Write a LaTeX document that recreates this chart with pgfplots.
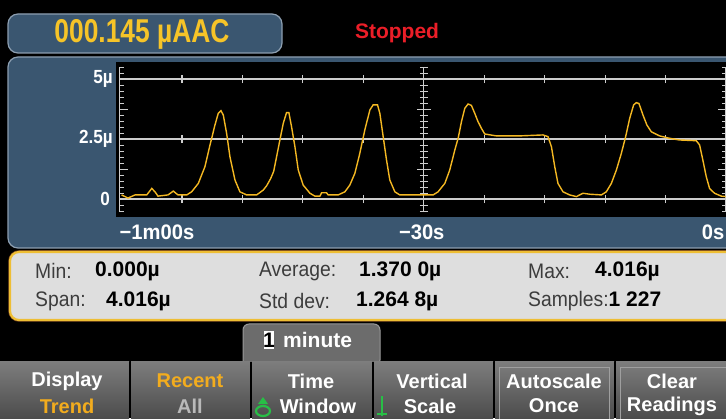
\documentclass[border=0pt]{standalone}
\usepackage{pgfplots}
\pgfplotsset{compat=1.18}
\usepackage{fontspec}
\setmainfont{Liberation Sans}
\newfontfamily\ui{Liberation Sans}
\newfontfamily\uin[FakeStretch=0.92]{Liberation Sans}
\newfontfamily\uic[FakeStretch=0.9]{Liberation Sans}
\newfontfamily\uir[FakeStretch=0.8]{Liberation Sans}
\newfontfamily\uiw[FakeStretch=0.96]{Liberation Sans}
\usetikzlibrary{shadings}
\newcommand\fs[1]{\fontsize{#1}{#1}\selectfont}
\definecolor{panel}{RGB}{58,86,112}
\definecolor{panelb}{RGB}{140,158,176}
\definecolor{readyel}{RGB}{246,196,40}
\definecolor{stopred}{RGB}{235,30,40}
\definecolor{gridc}{RGB}{205,205,205}
\definecolor{trace}{RGB}{244,184,34}
\definecolor{statbg}{RGB}{222,222,222}
\definecolor{statbd}{RGB}{238,190,52}
\definecolor{statout}{RGB}{120,70,30}
\definecolor{keytop}{RGB}{125,125,125}
\definecolor{keybot}{RGB}{76,76,76}
\definecolor{tabc}{RGB}{108,108,108}
\definecolor{keyorange}{RGB}{242,172,30}
\definecolor{iconG}{RGB}{40,190,70}
\definecolor{labc}{RGB}{60,60,60}
\begin{document}
\begin{tikzpicture}[x=1pt,y=1pt]
\path[use as bounding box] (0,0) rectangle (726,418);
\clip (0,0) rectangle (726,418);
\fill[black] (0,0) rectangle (726,418);
% readout
\draw[rounded corners=10pt, fill=panel, draw=panelb, line width=1.2pt] (8,365) rectangle (282,404);
\node[text=readyel, font=\uir\bfseries\fs{33}] at (142,384) {000.145 µAAC};
\node[text=stopred, font=\ui\bfseries\fs{21}] at (397,385) {Stopped};
% plot panel
\draw[rounded corners=10pt, fill=panel, draw=panelb, line width=1.2pt] (8,170) rectangle (745,361);
\begin{axis}[at={(116pt,201pt)}, anchor=south west, scale only axis,
  width=610pt, height=155pt,
  xmin=-60.55, xmax=0, ymin=-0.75, ymax=5.71,
  axis background/.style={fill=black},
  axis line style={draw=none},
  xtick=\empty, ytick=\empty,
  clip=false]
% vertical axes
\draw[gridc, line width=1.3pt] (axis cs:-60.2,-0.55) -- (axis cs:-60.2,5.5);
\draw[gridc, line width=1.3pt] (axis cs:-30,-0.55) -- (axis cs:-30,5.5);
\draw[gridc, line width=1.3pt] (axis cs:0,-0.55) -- (axis cs:0,5.5);
% horizontal grid
\pgfplotsinvokeforeach{0,2.5,5}{
  \draw[gridc, line width=1.3pt] (axis cs:-60.2,#1) -- (axis cs:0,#1);
}
% minor ticks on vertical axes
\pgfplotsinvokeforeach{-0.5,-0.25,0.25,0.5,0.75,1,1.5,1.75,2,2.25,2.75,3,3.25,3.5,4,4.25,4.5,4.75,5.25,5.5}{
  \draw[gridc, line width=1pt] (axis cs:-60.2,#1) -- ++(4pt,0pt);
  \draw[gridc, line width=1pt] (axis cs:-30,#1) ++(-4pt,0pt) -- ++(8pt,0pt);
  \draw[gridc, line width=1pt] (axis cs:0,#1) -- ++(-4pt,0pt);
}
\pgfplotsinvokeforeach{1.25,3.75}{
  \draw[gridc, line width=1pt] (axis cs:-60.2,#1) -- ++(8pt,0pt);
  \draw[gridc, line width=1pt] (axis cs:-30,#1) ++(-7pt,0pt) -- ++(14pt,0pt);
  \draw[gridc, line width=1pt] (axis cs:0,#1) -- ++(-8pt,0pt);
}
% ticks on grid lines
\pgfplotsinvokeforeach{-54,-48,-42,-36,-24,-18,-12,-6}{
  \draw[gridc, line width=1.2pt] (axis cs:#1,0) ++(0pt,-4pt) -- ++(0pt,8pt);
  \draw[gridc, line width=1.2pt] (axis cs:#1,2.5) ++(0pt,-4pt) -- ++(0pt,8pt);
  \draw[gridc, line width=1.2pt] (axis cs:#1,5) ++(0pt,-4pt) -- ++(0pt,8pt);
}
% labels
\node[anchor=east, inner sep=0pt, text=white, font=\uic\bfseries\fs{19}] at ([xshift=-3pt]axis cs:-60.55,5) {5µ};
\node[anchor=east, inner sep=0pt, text=white, font=\uic\bfseries\fs{19}] at ([xshift=-3pt]axis cs:-60.55,2.5) {2.5µ};
\node[anchor=east, inner sep=0pt, text=white, font=\uic\bfseries\fs{19}] at ([xshift=-6pt]axis cs:-60.55,0) {0};
\node[anchor=west, inner sep=0pt, text=white, font=\uiw\bfseries\fs{21}] at ([yshift=-15pt]axis cs:-60.2,-0.75) {−1m00s};
\node[inner sep=0pt, text=white, font=\uiw\bfseries\fs{21}] at ([yshift=-15pt]axis cs:-30.2,-0.75) {−30s};
\node[anchor=east, inner sep=0pt, text=white, font=\uiw\bfseries\fs{21}] at ([yshift=-15pt, xshift=-1.5pt]axis cs:0,-0.75) {0s};
% trace
\addplot[trace, line width=1.4pt, no markers] coordinates {
(-60.0,0.17) (-59.65,0.10) (-59.36,0.04) (-58.66,0.17) (-57.50,0.17)
(-57.0,0.44) (-56.68,0.30) (-56.38,0.12) (-55.39,0.17) (-54.86,0.33)
(-54.40,0.17) (-53.53,0.17) (-53.04,0.30) (-52.38,0.65) (-51.72,1.35)
(-51.22,2.25) (-50.73,3.08) (-50.40,3.57) (-50.13,3.68) (-49.90,3.50)
(-49.57,2.74) (-49.24,1.76) (-48.74,0.79) (-48.25,0.30) (-47.58,0.17)
(-46.59,0.17) (-45.94,0.37) (-45.60,0.55) (-45.20,0.85) (-44.90,1.15)
(-44.61,1.76) (-44.28,2.46) (-43.95,3.15) (-43.62,3.60) (-43.39,3.60)
(-43.12,3.00) (-42.79,2.18) (-42.46,1.21) (-41.97,0.58) (-41.30,0.24)
(-40.81,0.12) (-40.31,0.12) (-40.14,0.26) (-39.65,0.26) (-39.49,0.17)
(-38.50,0.17) (-37.83,0.30) (-37.34,0.58) (-36.84,1.07) (-36.35,1.90)
(-35.85,2.88) (-35.35,3.71) (-35.03,3.92) (-34.59,3.92) (-34.36,3.57)
(-34.03,2.60) (-33.70,1.63) (-33.37,0.79) (-32.87,0.30) (-32.38,0.17)
(-29.07,0.17) (-28.58,0.30) (-27.91,0.65) (-27.42,1.21) (-26.92,2.04)
(-26.59,2.53) (-26.26,3.22) (-25.93,3.78) (-25.60,3.96) (-25.27,3.90)
(-24.94,3.57) (-24.61,3.22) (-24.27,2.94) (-23.95,2.71) (-22.79,2.63)
(-20.48,2.63) (-18.16,2.67) (-17.67,2.60) (-17.33,2.18) (-17.00,1.35)
(-16.68,0.65) (-16.18,0.30) (-15.52,0.17) (-14.85,0.10) (-14.20,0.24)
(-13.53,0.20) (-12.37,0.17) (-11.88,0.30) (-11.38,0.65) (-10.88,1.21)
(-10.39,1.90) (-9.96,2.60) (-9.56,3.36) (-9.17,3.92) (-8.90,4.016)
(-8.64,3.98) (-8.24,3.50) (-7.85,3.08) (-7.41,2.80) (-6.59,2.63)
(-5.60,2.53) (-4.61,2.46) (-2.95,2.43) (-2.62,2.25) (-2.30,1.63)
(-1.96,0.93) (-1.63,0.44) (-1.14,0.24) (-0.47,0.12) (-0.04,0.10)
};
\end{axis}
% stats panel
\draw[rounded corners=9pt, draw=statout, line width=3.5pt] (10,98) rectangle (745,166);
\draw[rounded corners=9pt, fill=statbg, draw=statbd, line width=2.2pt] (10,98) rectangle (745,166);
\begin{scope}[every node/.style={anchor=west, inner sep=0pt}]
\node[text=labc, font=\uin\fs{21}] at (35,147) {Min:};
\node[text=black, font=\ui\bfseries\fs{21}] at (95,147) {0.000µ};
\node[text=labc, font=\uin\fs{21}] at (35,117) {Span:};
\node[text=black, font=\ui\bfseries\fs{21}] at (106,117) {4.016µ};
\node[text=labc, font=\uin\fs{21}] at (259,147) {Average:};
\node[text=black, font=\ui\bfseries\fs{21}] at (359,147) {1.370 0µ};
\node[text=labc, font=\uin\fs{21}] at (259,117) {Std dev:};
\node[text=black, font=\ui\bfseries\fs{21}] at (356,117) {1.264 8µ};
\node[text=labc, font=\uin\fs{21}] at (528,147) {Max:};
\node[text=black, font=\ui\bfseries\fs{21}] at (595,147) {4.016µ};
\node[text=labc, font=\uin\fs{21}] at (528,117) {Samples:\textcolor{black}{\ui\bfseries 1 227}};
\end{scope}
% tab
\fill[tabc, draw=gray!80, line width=1pt, rounded corners=6pt] (243,52) rectangle (380,94);
\fill[white] (264,69) rectangle (274,87);
\node[font=\ui\bfseries\fs{21}, text=black, inner sep=0pt] at (269,78) {1};
\node[anchor=west, font=\ui\bfseries\fs{21}, text=white, inner sep=0pt] at (283,78) {minute};
% keys
\foreach \a/\b in {0/129,131/250,252/372,374/493,495/614,616/740}{
  \shade[top color=keytop, bottom color=keybot] (\a,0) rectangle (\b,56);
}
\fill[black] (129,0) rectangle (131,56);
\fill[black] (250,0) rectangle (252,56);
\fill[black] (372,0) rectangle (374,56);
\fill[black] (493,0) rectangle (495,56);
\fill[black] (614,0) rectangle (616,56);
\draw[gray!75, line width=1pt] (499,-2) -- (499,50) -- (609,50) -- (609,-2);
\draw[gray!75, line width=1pt] (620,-2) -- (620,50) -- (740,50);
\begin{scope}[every node/.style={inner sep=0pt, font=\ui\bfseries\fs{20}}]
\node[text=white] at (67,37) {Display};
\node[text=keyorange] at (67,12) {Trend};
\node[text=keyorange] at (190,37) {Recent};
\node[text=gray!55] at (190,12) {All};
\node[text=white] at (311,37) {Time};
\node[text=white] at (318,12) {Window};
\node[text=white] at (432,37) {Vertical};
\node[text=white] at (430,12) {Scale};
\node[text=white] at (554,37) {Autoscale};
\node[text=white] at (554,12) {Once};
\node[text=white] at (672,37) {Clear};
\node[text=white] at (672,12) {Readings};
\end{scope}
% icons
\draw[iconG, line width=2.2pt] (263,7) ellipse (7 and 5);
\fill[iconG] (258,14) -- (263,21) -- (268,14) -- cycle;
\draw[iconG, line width=2.5pt] (382,22) -- (382,2);
\draw[iconG, line width=2.5pt] (377,4) -- (387,4);
\end{tikzpicture}
\end{document}
